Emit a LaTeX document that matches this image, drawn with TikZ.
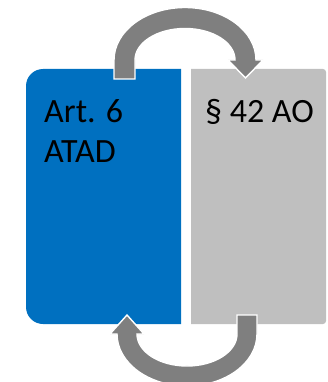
\documentclass[tikz,border=0pt]{standalone}
\usepackage{fontspec}
\setmainfont{Carlito}
\definecolor{boxblue}{HTML}{0070C0}
\definecolor{boxgray}{HTML}{BFBFBF}
\definecolor{arrowgray}{HTML}{7F7F7F}
\tikzset{
  bluebox/.style={fill=boxblue},
  graybox/.style={fill=boxgray},
  cyclearrow/.style={fill=arrowgray, draw=white, line width=1.4pt, line join=miter},
  label/.style={font=\fontsize{34}{39}\selectfont, text=black, inner sep=0pt, anchor=base west}
}
\begin{document}
\begin{tikzpicture}[x=1pt,y=-1pt]
\useasboundingbox (0,0) rectangle (327,382);
% boxes
\fill[bluebox] (181,69) -- (43,69) arc[start angle=270,end angle=180,radius=17]
  -- (26,307) arc[start angle=180,end angle=90,radius=17] -- (181,324) -- cycle;
\fill[graybox] (191,69) -- (323,69) arc[start angle=270,end angle=360,radius=3]
  -- (326,321) arc[start angle=0,end angle=90,radius=3] -- (191,324) -- cycle;
% top arrow
\path[cyclearrow] (114,79) -- (114,60)
  arc[start angle=180,end angle=360,x radius=71,y radius=52.5]
  -- (263,60) -- (245.5,78) -- (228,60) -- (235,60)
  arc[start angle=360,end angle=180,x radius=50,y radius=31.5]
  -- (135,79) -- cycle;
% bottom arrow
\path[cyclearrow] (257,315) -- (257,334)
  arc[start angle=0,end angle=180,x radius=70,y radius=52]
  -- (110,334) -- (127,315) -- (144,334) -- (137,334)
  arc[start angle=180,end angle=0,x radius=50,y radius=32]
  -- (237,315) -- cycle;
% texts
\node[label] (art) at (44,123) {Art. 6};
\node[label] (atad) at (44,162) {ATAD};
\node[label] (ao) at (205,123) {§ 42 AO};
\end{tikzpicture}
\end{document}
